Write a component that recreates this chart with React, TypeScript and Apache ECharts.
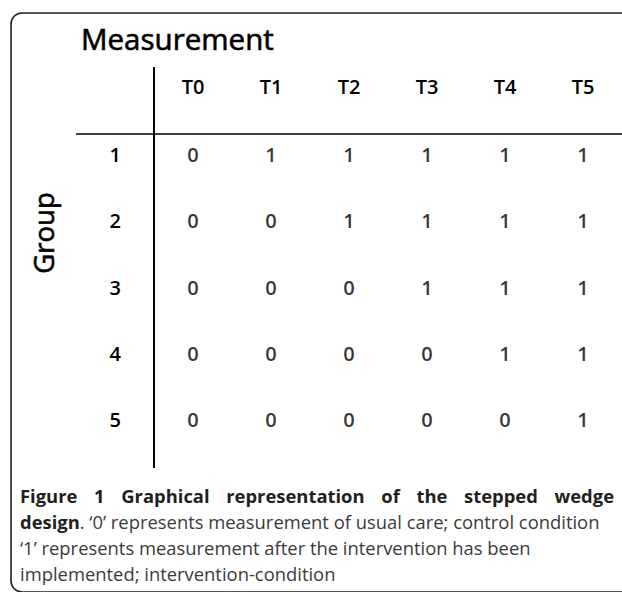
import React, { useEffect, useRef } from "react";
import * as echarts from "echarts";

const timePoints = ["T0", "T1", "T2", "T3", "T4", "T5"];
const groups = ["1", "2", "3", "4", "5"];
const group1 = [0, 1, 1, 1, 1, 1];
const group2 = [0, 0, 1, 1, 1, 1];
const group3 = [0, 0, 0, 1, 1, 1];
const group4 = [0, 0, 0, 0, 1, 1];
const group5 = [0, 0, 0, 0, 0, 1];
const rows = [group1, group2, group3, group4, group5];

const titleText = "Measurement";
const groupText = "Group";
const captionLine1 = "Figure 1 Graphical representation of the stepped wedge";
const captionLine2Bold = "design";
const captionLine2Rest = ". \u20180\u2019 represents measurement of usual care; control condition";
const captionLine3 = "\u20181\u2019 represents measurement after the intervention has been";
const captionLine4 = "implemented; intervention-condition";

const TABLE_FONT = "Open Sans";
const CAP_FONT = "Open Sans";
const CAP_SIZE = 18.4;
const CELL_WEIGHT = 600;

function justifyWords(text: string, left: number, right: number, font: string) {
  const words = text.split(" ");
  const ctx = document.createElement("canvas").getContext("2d")!;
  ctx.font = font;
  const widths = words.map((w) => ctx.measureText(w).width);
  const total = widths.reduce((a, b) => a + b, 0);
  const gap = (right - left - total) / (words.length - 1);
  const out: { word: string; x: number }[] = [];
  let x = left;
  words.forEach((w, i) => {
    out.push({ word: w, x });
    x += widths[i] + gap;
  });
  return out;
}

export default function App() {
  const ref = useRef<HTMLDivElement>(null);
  useEffect(() => {
    if (!ref.current) return;
    const chart = echarts.init(ref.current, undefined, { renderer: "svg" });
    const data: any[] = [];
    groups.forEach((g, gi) => {
      rows[gi].forEach((v, ti) => data.push([timePoints[ti], g, v]));
    });
    const line1 = justifyWords(captionLine1, 20, 614, `bold ${CAP_SIZE}px "Open Sans"`);
    const graphics: any[] = [
      {
        type: "rect",
        shape: { x: 11, y: 13, width: 700, height: 579, r: 11 },
        style: { fill: "none", stroke: "#222", lineWidth: 1.6 },
        silent: true,
      },
      {
        type: "line",
        shape: { x1: 154, y1: 67, x2: 154, y2: 468 },
        style: { stroke: "#000", lineWidth: 2 },
      },
      {
        type: "line",
        shape: { x1: 76, y1: 134, x2: 622, y2: 134 },
        style: { stroke: "#000", lineWidth: 1.5 },
      },
      {
        type: "text",
        x: 81,
        y: 38,
        style: {
          text: titleText,
          fontFamily: TABLE_FONT,
          fontSize: 29.5,
          fill: "#000",
          stroke: "#000",
          lineWidth: 0.6,
          align: "left",
          verticalAlign: "middle",
        },
      },
      {
        type: "text",
        x: 43,
        y: 233,
        rotation: Math.PI / 2,
        style: {
          text: groupText,
          fontFamily: TABLE_FONT,
          fontSize: 27.5,
          fill: "#000",
          stroke: "#000",
          lineWidth: 0.6,
          align: "center",
          verticalAlign: "middle",
        },
      },
      ...line1.map((w) => ({
        type: "text",
        x: w.x,
        y: 495,
        style: {
          text: w.word,
          fontFamily: CAP_FONT,
          fontWeight: "bold",
          fontSize: CAP_SIZE,
          fill: "#231f20",
          align: "left",
          verticalAlign: "middle",
        },
      })),
      {
        type: "text",
        x: 20,
        y: 521,
        style: {
          text: `{b|${captionLine2Bold}}{r|${captionLine2Rest}}`,
          rich: {
            b: { fontFamily: CAP_FONT, fontWeight: "bold", fontSize: CAP_SIZE, fill: "#231f20" },
            r: { fontFamily: CAP_FONT, fontSize: CAP_SIZE, fill: "#3a3a3a" },
          },
          align: "left",
          verticalAlign: "middle",
        },
      },
      {
        type: "text",
        x: 20,
        y: 547,
        style: {
          text: captionLine3,
          fontFamily: CAP_FONT,
          fontSize: CAP_SIZE,
          fill: "#3a3a3a",
          align: "left",
          verticalAlign: "middle",
        },
      },
      {
        type: "text",
        x: 20,
        y: 573,
        style: {
          text: captionLine4,
          fontFamily: CAP_FONT,
          fontSize: CAP_SIZE,
          fill: "#3a3a3a",
          align: "left",
          verticalAlign: "middle",
        },
      },
    ];
    chart.setOption({
      animation: false,
      backgroundColor: "#fff",
      grid: { left: 154, right: 0, top: 121, bottom: 139 },
      xAxis: {
        type: "category",
        data: timePoints,
        position: "top",
        axisLine: { show: false },
        axisTick: { show: false },
        splitLine: { show: false },
        axisLabel: {
          fontFamily: TABLE_FONT,
          fontSize: 20,
          fontWeight: CELL_WEIGHT,
          color: "#000",
          margin: 25,
        },
      },
      yAxis: {
        type: "category",
        data: groups,
        inverse: true,
        axisLine: { show: false },
        axisTick: { show: false },
        splitLine: { show: false },
        axisLabel: {
          fontFamily: TABLE_FONT,
          fontSize: 20,
          fontWeight: CELL_WEIGHT,
          color: "#000",
          margin: 33,
        },
      },
      series: [
        {
          type: "scatter",
          data,
          symbolSize: 0,
          silent: true,
          label: {
            show: true,
            position: [0, 0],
            align: "center",
            verticalAlign: "middle",
            fontFamily: TABLE_FONT,
            fontSize: 20,
            fontWeight: CELL_WEIGHT,
            color: "#000",
            formatter: (p: any) => String(p.value[2]),
          },
        },
      ],
      graphic: graphics,
    });
    return () => chart.dispose();
  }, []);
  return (
    <div
      ref={ref}
      style={{ position: "fixed", left: 0, top: 0, width: 622, height: 592 }}
    />
  );
}
